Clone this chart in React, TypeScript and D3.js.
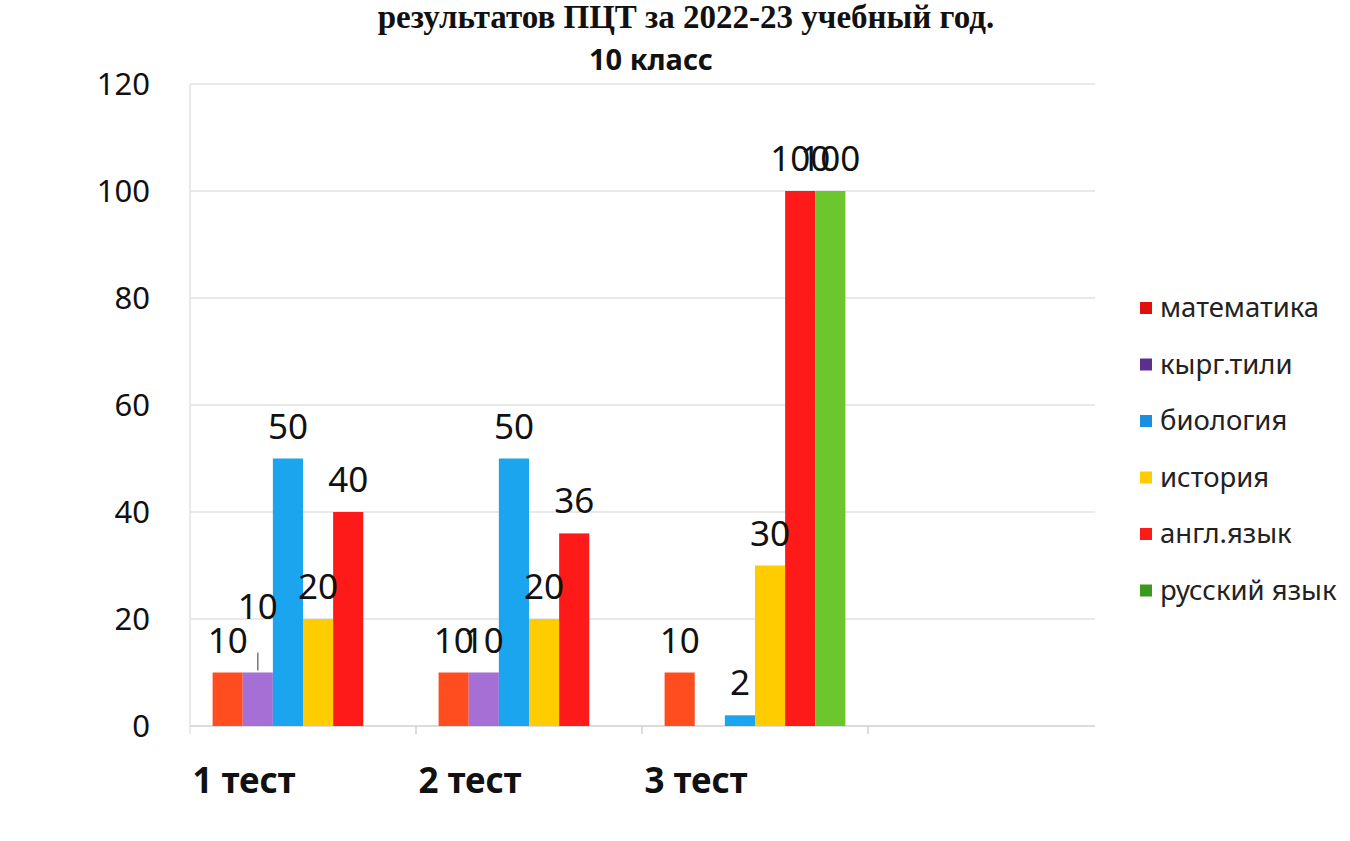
import * as d3 from 'd3'
import { useEffect } from 'react'

// chart data
const tests = ['1 тест', '2 тест', '3 тест']
const subjects = ['математика', 'кырг.тили', 'биология', 'история', 'англ.язык', 'русский язык']
const colors = ['#ff4d1f', '#a66fd6', '#1ba5ef', '#ffcc00', '#ff1a1a', '#6cc62e']
const legendColors = ['#e01010', '#5b2f8c', '#1a8fe0', '#ffcc00', '#ff1a1a', '#3a9a20']

const matematika = [10, 10, 10]
const kyrgTili = [10, 10, null]
const biologiya = [50, 50, 2]
const istoriya = [20, 20, 30]
const anglYazyk = [40, 36, 100]
const russkiy = [null, null, 100]

const series = [matematika, kyrgTili, biologiya, istoriya, anglYazyk, russkiy]
const yTicks = [0, 20, 40, 60, 80, 100, 120]

const sans = '"Noto Sans", "Open Sans", sans-serif'

export default function App() {
    useEffect(() => {
        document.body.style.margin = '0'
    }, [])

    const width = 1350
    const height = 841
    const left = 190
    const gridRight = 1095

    const x = d3.scaleBand().domain(tests).range([left, 868]).paddingInner(0.2).paddingOuter(0.1)
    const xs = d3.scaleBand().domain(subjects).range([0, x.bandwidth()])
    const y = d3.scaleLinear().domain([0, 120]).range([726, 84])

    return (
        <svg width={width} height={height} style={{ display: 'block', background: '#fff' }}>
            <text x={686} y={28} textAnchor="middle" fontFamily='"Liberation Serif", serif' fontWeight="bold" fontSize={33} fill="#111">
                результатов ПЦТ за 2022-23 учебный год.
            </text>
            <text x={651} y={70} textAnchor="middle" fontFamily={sans} fontWeight="bold" fontSize={29} fill="#111">
                10 класс
            </text>

            {yTicks.map(t => (
                <g key={t}>
                    <line x1={left} x2={gridRight} y1={y(t)} y2={y(t)} stroke={t === 0 ? '#d0d0d0' : '#e2e2e2'} strokeWidth={1.5} />
                    <text x={150} y={y(t)} dy="0.36em" textAnchor="end" fontFamily={sans} fontSize={31} fill="#111">{t}</text>
                </g>
            ))}
            <line x1={left} x2={left} y1={y(120)} y2={y(0) + 8} stroke="#e2e2e2" strokeWidth={1.5} />
            {tests.map(c => (
                <line key={c} x1={(x(c) ?? 0) + x.bandwidth() + x.step() * 0.1} x2={(x(c) ?? 0) + x.bandwidth() + x.step() * 0.1}
                    y1={y(0)} y2={y(0) + 8} stroke="#d0d0d0" strokeWidth={1.5} />
            ))}

            {tests.map((c, ci) => (
                <g key={c} transform={`translate(${x(c)},0)`}>
                    {series.map((vals, si) => {
                        const v = vals[ci]
                        if (v == null) return null
                        const bx = xs(subjects[si]) ?? 0
                        return (
                            <rect key={si} x={bx} y={y(v)} width={xs.bandwidth()} height={y(0) - y(v)} fill={colors[si]} />
                        )
                    })}
                    {series.map((vals, si) => {
                        const v = vals[ci]
                        if (v == null) return null
                        const cx = (xs(subjects[si]) ?? 0) + xs.bandwidth() / 2
                        // the purple label of test 1 was lifted with a leader line
                        const lifted = si === 1 && ci === 0
                        const ty = y(v) - (lifted ? 54 : 20)
                        return (
                            <g key={'l' + si}>
                                {lifted && <line x1={cx} x2={cx} y1={ty + 34} y2={y(v) - 2} stroke="#777" strokeWidth={1.5} />}
                                <text x={cx} y={ty} textAnchor="middle" fontFamily={sans} fontSize={35} fill="#111">{v}</text>
                            </g>
                        )
                    })}
                    <text x={-20} y={793} fontFamily={sans} fontWeight="bold" fontSize={35} fill="#111">{c}</text>
                </g>
            ))}

            {subjects.map((s, i) => (
                <g key={s} transform={`translate(1140,${308 + i * 56.5})`}>
                    <rect x={0} y={-6} width={12} height={12} fill={legendColors[i]} />
                    <text x={20} y={0} dy="0.33em" fontFamily={sans} fontSize={27.5} fill="#222">{s}</text>
                </g>
            ))}
        </svg>
    )
}
